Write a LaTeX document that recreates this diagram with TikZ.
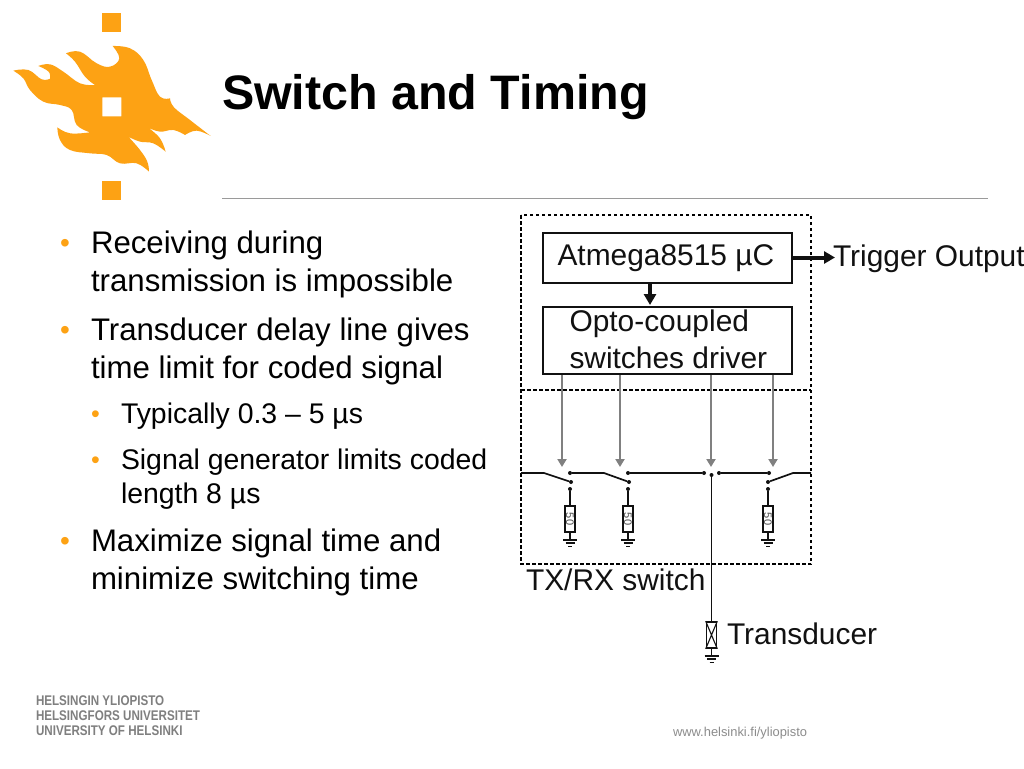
\documentclass[tikz,border=0pt]{standalone}
\usepackage{fontspec}
\setmainfont{Liberation Sans}
\definecolor{huorange}{HTML}{FDA214}
\definecolor{rulegray}{HTML}{9A9A9A}
\definecolor{arrowgray}{HTML}{808080}
\definecolor{logogray}{HTML}{7F7F7F}
\definecolor{foot}{HTML}{8C8C8C}
\definecolor{ink}{HTML}{111111}
\usetikzlibrary{arrows.meta}
\tikzset{
  x=1pt,y=-1pt,
  txt/.style={anchor=base west,inner sep=0pt,outer sep=0pt,text=black},
  body/.style={txt,font=\fontsize{31.2}{31.2}\selectfont},
  subbody/.style={txt,font=\fontsize{28.4}{28.4}\selectfont},
  bul/.style={anchor=base west,inner sep=0pt,text=huorange},
  dia/.style={txt,font=\fontsize{29.9}{29.9}\selectfont,text=ink},
  logotxt/.style={txt,font=\fontsize{14}{14}\selectfont\bfseries,text=logogray},
  frame/.style={draw=black,line width=1.7pt,dash pattern=on 3.5pt off 2.5pt},
  block/.style={draw=ink,line width=2pt,fill=none,inner sep=0pt,minimum width=249pt,anchor=north west},
  wire/.style={draw=ink,line width=1.7pt},
  ctrl/.style={draw=arrowgray,line width=2.2pt,-{Triangle[length=8pt,width=9pt]}},
  dot/.style={circle,fill=ink,inner sep=0pt,minimum size=4pt},
  res/.style={draw=ink,line width=1.6pt,inner sep=0pt,minimum width=10.5pt,minimum height=26pt,fill=white},
}
\newcommand{\gnd}[2]{%
  \draw[ink,line width=1.4pt] (#1-7,#2)--(#1+7,#2) (#1-4.5,#2+3)--(#1+4.5,#2+3);
  \draw[ink,line width=1.4pt] (#1-2,#2+6.5)--(#1+2,#2+6.5);}
\begin{document}
\begin{tikzpicture}
\useasboundingbox (0,0) rectangle (1024,768);
\fill[white] (0,0) rectangle (1024,768);
% logo
\begin{scope}[x=0.3333pt,y=-0.3333pt]
\fill[huorange] (307,39) rectangle (363,95);
\fill[huorange] (307,544) rectangle (363,600);
\fill[huorange,even odd rule]
  plot[smooth,tension=.7] coordinates {(40,212)(85,210)(125,238)(150,236)}
  -- plot[smooth,tension=.7] coordinates {(150,236)(146,215)(115,198)}
  -- plot[smooth,tension=.7] coordinates {(115,198)(150,193)(190,215)(240,250)(285,255)}
  -- plot[smooth,tension=.7] coordinates {(285,255)(255,230)(225,185)(198,160)}
  -- plot[smooth,tension=.7] coordinates {(198,160)(240,155)(290,190)(330,200)(358,175)(338,138)}
  -- plot[smooth,tension=.7] coordinates {(338,138)(390,145)(430,180)(455,240)(480,290)(510,295)}
  -- plot[smooth,tension=.7] coordinates {(510,295)(522,322)(570,360)(632,408)}
  -- plot[smooth,tension=.7] coordinates {(632,408)(590,392)(555,405)}
  -- plot[smooth,tension=.7] coordinates {(555,405)(520,390)(480,395)(445,383)}
  -- plot[smooth,tension=.7] coordinates {(445,383)(480,415)(497,455)}
  -- plot[smooth,tension=.7] coordinates {(497,455)(460,430)(420,425)(385,410)}
  -- plot[smooth,tension=.7] coordinates {(385,410)(420,450)(442,485)(447,515)}
  -- plot[smooth,tension=.7] coordinates {(447,515)(410,490)(360,490)(320,465)(270,460)(210,450)(180,420)(172,382)}
  -- plot[smooth,tension=.7] coordinates {(172,382)(210,400)(270,397)}
  -- plot[smooth,tension=.7] coordinates {(270,397)(230,375)(215,330)(180,315)(130,305)(90,270)(70,235)(40,212)}
  -- cycle
  (307,292) rectangle (364,349);
\end{scope}
% title
\node[txt,font=\fontsize{48.4}{48.4}\selectfont\bfseries] (title) at (222,109) {Switch and Timing};
\draw[rulegray,line width=1.2pt] (222,198.5)--(988,198.5);
% bullets
\foreach \n/\x/\y in {a/60/252,b/60/339,e/60/550}{\node[bul,font=\fontsize{28}{28}\selectfont] (bul\n) at (\x,\y) {•};}
\foreach \n/\x/\y in {c/91/422,d/91/468}{\node[bul,font=\fontsize{25}{25}\selectfont] (bul\n) at (\x,\y) {•};}
\node[body] (t1) at (91,253) {Receiving during};
\node[body] (t2) at (91,291) {transmission is impossible};
\node[body] (t3) at (91,340) {Transducer delay line gives};
\node[body] (t4) at (91,378) {time limit for coded signal};
\node[subbody] (t5) at (121,423) {Typically 0.3 – 5 µs};
\node[subbody] (t6) at (121,469) {Signal generator limits coded};
\node[subbody] (t7) at (121,503) {length 8 µs};
\node[body] (t8) at (91,551) {Maximize signal time and};
\node[body] (t9) at (91,589) {minimize switching time};
% diagram frames
\draw[frame] (521,215) rectangle (811,564);
\draw[frame] (521,390)--(811,390);
% blocks
\node[block,minimum height=50pt] (mcu) at (542,231.5) {};
\node[dia] (mcutxt) at (557.5,265) {Atmega8515 µC};
\node[block,minimum height=67pt] (opto) at (542,306) {};
\node[dia] (optoa) at (569.5,331) {Opto-coupled};
\node[dia] (optob) at (569.5,368) {switches driver};
\draw[ink,line width=4pt,-{Triangle[length=11pt,width=12pt]}] (mcu.east) -- ++(42,0) coordinate (trig);
\coordinate (downend) at (650,305);
\draw[ink,line width=4pt,-{Triangle[length=11pt,width=12pt]}] (mcu.south -| downend) -- (downend);
\node[dia] (trigtxt) at (833,266) {Trigger Output};
% control arrows
\foreach \n/\x in {1/562,2/620,3/711,4/773}{
  \coordinate (c\n) at (\x,467);
  \draw[ctrl] (opto.south -| c\n) -- (c\n);}
% contacts
\foreach \n/\x/\y in {a/570/473,b/571/482,c/570/489,d/628/473,e/629/482,f/628/489,g/704/473,h/711.5/475,i/719/473,j/769/473,k/768/482,l/768/489}{\node[dot] (d\n) at (\x,\y) {};}
\coordinate (la) at (521,473); \coordinate (lb) at (544,473);
\coordinate (lc) at (604,473);
\coordinate (ra) at (811,473); \coordinate (rb) at (793,473);
\draw[wire] (la)--(lb)--(db);
\draw[wire] (da)--(lc)--(de);
\draw[wire] (dd)--(dg);
\draw[wire] (di)--(dj);
\draw[wire] (ra)--(rb)--(dk);
% resistors
\foreach \n/\x/\p in {1/570/c,2/628/f,3/768/l}{
  \node[res] (r\n) at (\x,519) {\rotatebox{-90}{\fontsize{11}{11}\selectfont\color{ink!75} 50}};
  \draw[wire] (d\p) -- (r\n.north);
  \draw[wire] (r\n.south) -- ++(0,8);
  \gnd{\x}{540}
}
% transducer
\node[res,minimum width=10pt] (tr) at (711.5,635) {};
\draw[ink,line width=1.1pt] (tr.north west)--(tr.south east) (tr.north east)--(tr.south west);
\draw[wire] (dh)--(tr.north);
\draw[wire] (tr.south)--++(0,8);
\gnd{711.5}{656}
% labels
\node[dia] (txrx) at (526,590) {TX/RX switch};
\node[dia] (trans) at (727,644) {Transducer};
% footer
\node[txt,font=\fontsize{12.9}{12.9}\selectfont,text=foot] (url) at (673,736) {www.helsinki.fi/yliopisto};
\node[logotxt] (l1) at (36,705) {\scalebox{.83}[1]{HELSINGIN YLIOPISTO}};
\node[logotxt] (l2) at (36,720) {\scalebox{.83}[1]{HELSINGFORS UNIVERSITET}};
\node[logotxt] (l3) at (36,735) {\scalebox{.83}[1]{UNIVERSITY OF HELSINKI}};
\end{tikzpicture}
\end{document}
